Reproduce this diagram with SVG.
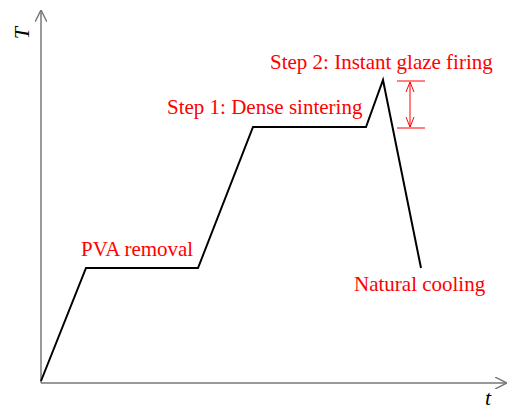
<svg xmlns="http://www.w3.org/2000/svg" width="507" height="410" viewBox="0 0 507 410">
<defs>
<style>
.axis{stroke:#777;stroke-width:1.5;fill:none}
.curve{stroke:#000;stroke-width:2;fill:none;stroke-linejoin:miter}
.lbl{font-family:"Liberation Serif",serif;font-size:21px;fill:#ff0000}
.ax{font-family:"Liberation Serif",serif;font-size:22px;font-style:italic;fill:#000}
.red{stroke:#ff0000;stroke-width:1;fill:none}
</style>
<marker id="ah" viewBox="0 0 10 10" refX="10" refY="5" markerWidth="12" markerHeight="12" markerUnits="userSpaceOnUse" orient="auto"><path d="M0,0 L10,5 L0,10" fill="none" stroke="#777" stroke-width="1.2"/></marker>
<marker id="rh" viewBox="0 0 10 10" refX="10" refY="5" markerWidth="10" markerHeight="10" markerUnits="userSpaceOnUse" orient="auto-start-reverse"><path d="M0,1 L10,5 L0,9" fill="none" stroke="#ff0000" stroke-width="1"/></marker>
</defs>
<g id="axes">
<line class="axis" x1="41" y1="383" x2="41" y2="10" marker-end="url(#ah)"/>
<line class="axis" x1="41" y1="383" x2="507" y2="383" marker-end="url(#ah)"/>
<text class="ax" transform="translate(29,33) rotate(-90)" text-anchor="middle">T</text>
<text class="ax" x="488" y="405" text-anchor="middle">t</text>
</g>
<g id="connectors">
<polyline class="curve" points="41,381 86,268 198,268 253,127 366,127 383,80 421,268"/>
<line class="red" x1="397" y1="81" x2="425" y2="81"/>
<line class="red" x1="397" y1="128" x2="425" y2="128"/>
<line class="red" x1="410" y1="82" x2="410" y2="127" marker-start="url(#rh)" marker-end="url(#rh)"/>
</g>
<g id="step2"><text class="lbl" x="270" y="69">Step 2: Instant glaze firing</text></g>
<g id="step1"><text class="lbl" x="167" y="114">Step 1: Dense sintering</text></g>
<g id="pva"><text class="lbl" x="81" y="256">PVA removal</text></g>
<g id="cooling"><text class="lbl" x="354" y="291">Natural cooling</text></g>
</svg>
